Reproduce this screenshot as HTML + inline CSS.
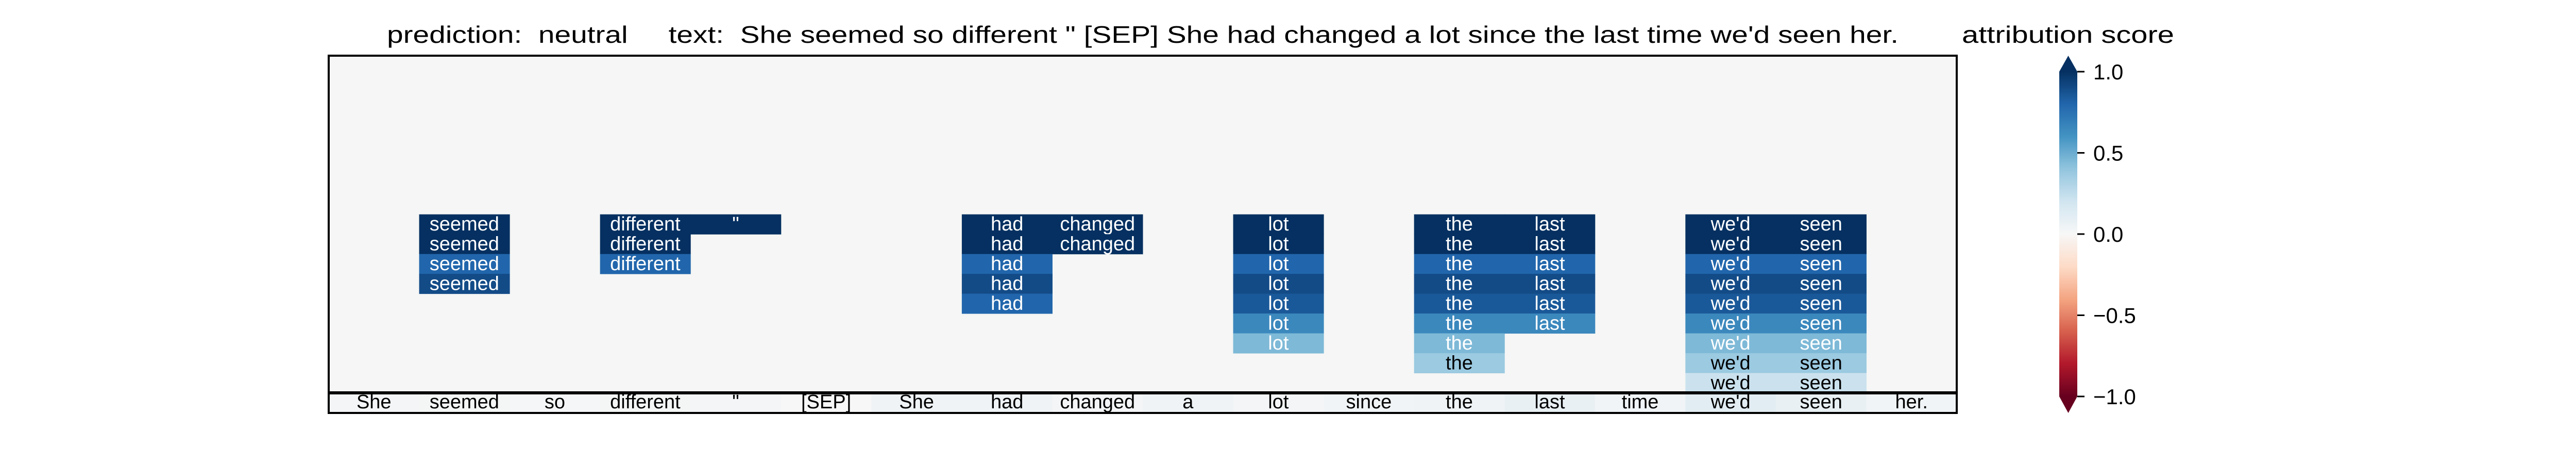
<!DOCTYPE html>
<html><head><meta charset="utf-8"><style>html,body{margin:0;padding:0;background:#fff}svg{display:block}text{font-family:"Liberation Sans",sans-serif;white-space:pre}</style></head>
<body>
<svg id="chart" width="5100" height="900" xmlns="http://www.w3.org/2000/svg">
<text xml:space="preserve" x="751" y="83" font-size="46" textLength="2934" lengthAdjust="spacingAndGlyphs">prediction:  neutral     text:  She seemed so different " [SEP] She had changed a lot since the last time we'd seen her.</text>
<text x="3808" y="83" font-size="46" textLength="412" lengthAdjust="spacingAndGlyphs">attribution score</text>
<rect x="638" y="108" width="3160" height="654" fill="#f5f6f5"/>
<g id="cells"></g>
<g id="strip"></g>
<rect x="638" y="108" width="3160" height="693" fill="none" stroke="#000" stroke-width="4"/>
<line x1="638" y1="762" x2="3798" y2="762" stroke="#000" stroke-width="6"/>
<defs><linearGradient id="rdbu" x1="0" y1="0" x2="0" y2="1"></linearGradient></defs>
<g id="cbar"></g>
</svg>
<script>
const tokens = ["She","seemed","so","different","\"","[SEP]","She","had","changed","a","lot","since","the","last","time","we'd","seen","her."];
// attribution values per token for rows 8..16 (top to bottom); missing = empty
const colSeemed = [1.0,1.0,0.8,0.9];
const colDifferent = [1.0,1.0,0.8];
const colQuote = [1.0];
const colHad = [1.0,1.0,0.8,0.9,0.8];
const colChanged = [1.0,1.0];
const colLot = [1.0,1.0,0.8,0.9,0.85,0.65,0.45];
const colThe = [1.0,1.0,0.8,0.9,0.85,0.65,0.45,0.37];
const colLast = [1.0,1.0,0.8,0.9,0.85,0.65];
const colWed = [1.0,1.0,0.8,0.9,0.85,0.65,0.45,0.37,0.22];
const colSeen = [1.0,1.0,0.8,0.9,0.85,0.65,0.45,0.37,0.22];
const columns = [[],colSeemed,[],colDifferent,colQuote,[],[],colHad,colChanged,[],colLot,[],colThe,colLast,[],colWed,colSeen,[]];
const stripValues = [0.02,0.015,0.01,0.015,0.02,0.0,0.04,0.04,0.02,0.04,0.02,0.03,0.04,0.08,0.03,0.11,0.08,0.03];
const cbarTicks = [1.0,0.5,0.0,-0.5,-1.0];
const cbarTickLabels = ["1.0","0.5","0.0","\u22120.5","\u22121.0"];

const NS="http://www.w3.org/2000/svg";
const X0=638, CW=3160/18, Y0=108, RH=654/17, FIRST_ROW=8;
const xOf=i=>X0+i*CW, yOf=r=>Y0+(FIRST_ROW+r)*RH;
const stops=[[-1,[103,0,31]],[-0.8,[178,24,43]],[-0.6,[214,96,77]],[-0.4,[244,165,130]],[-0.2,[253,219,199]],[0,[247,247,247]],[0.2,[209,229,240]],[0.4,[146,197,222]],[0.6,[67,147,195]],[0.8,[33,102,172]],[1,[5,48,97]]];
function cmap(v){v=Math.max(-1,Math.min(1,v));for(let i=0;i<stops.length-1;i++){const[a,ca]=stops[i],[b,cb]=stops[i+1];if(v<=b){const t=(v-a)/(b-a);return"rgb("+ca.map((c,k)=>Math.round(c+(cb[k]-c)*t)).join(",")+")";}}return"rgb(5,48,97)";}
function mk(tag,attrs,parent){const e=document.createElementNS(NS,tag);for(const k in attrs)e.setAttribute(k,attrs[k]);parent.appendChild(e);return e;}
const cells=document.getElementById('cells');
columns.forEach((col,i)=>{col.forEach((v,r)=>{
  const rc=mk('rect',{x:xOf(i),y:yOf(r),width:CW+0.5,height:RH+0.5,fill:cmap(v)},cells);
  
  
  const t=mk('text',{x:xOf(i)+CW/2,y:yOf(r)+RH-7,'font-size':38,'text-anchor':'middle',fill:v>0.4?'#fff':'#000'},cells);
  
  
  t.textContent=tokens[i];
});});
const strip=document.getElementById('strip');
stripValues.forEach((v,i)=>{
  const rc=mk('rect',{x:xOf(i),y:762,width:CW+0.5,height:39,fill:cmap(v)},strip);
  
  
  const t=mk('text',{x:xOf(i)+CW/2,y:792,'font-size':38,'text-anchor':'middle',fill:'#000'},strip);
  
  
  t.textContent=tokens[i];
});
// colorbar
const grad=document.getElementById('rdbu');
for(let k=0;k<=40;k++){const v=1-k/20;mk('stop',{offset:(k/40),'stop-color':cmap(v)},grad);}
const cb=document.getElementById('cbar');
const CBX=3997,CBW=35,CBT=139,CBB=769;
const cy=v=>CBT+(1-v)/2*(CBB-CBT);
const bar=mk('rect',{x:CBX,y:CBT,width:CBW,height:CBB-CBT,fill:'url(#rdbu)'},cb);


const up=mk('polygon',{points:`${CBX},${CBT} ${CBX+CBW},${CBT} ${CBX+CBW/2},108`,fill:cmap(1)},cb);


const dn=mk('polygon',{points:`${CBX},${CBB} ${CBX+CBW},${CBB} ${CBX+CBW/2},801`,fill:cmap(-1)},cb);


cbarTicks.forEach((v,i)=>{
  const l=mk('line',{x1:CBX+CBW,x2:CBX+CBW+14,y1:cy(v),y2:cy(v),stroke:'#000','stroke-width':3},cb);
  
  
  const t=mk('text',{x:4063,y:cy(v)+15,'font-size':42},cb);
  
  
  t.textContent=cbarTickLabels[i];
});
</script>
</body></html>
